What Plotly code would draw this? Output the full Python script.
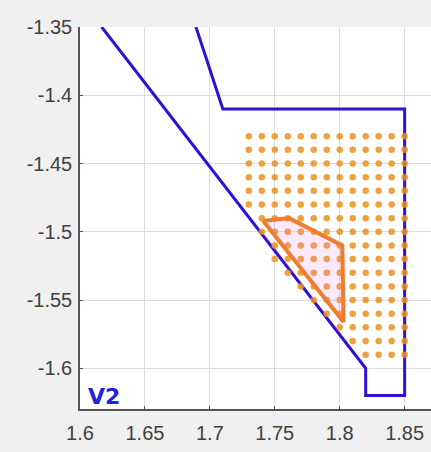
import plotly.graph_objects as go

# Boundary (blue) polyline
boundary_x = [1.6167, 1.82, 1.82, 1.85, 1.85, 1.71, 1.6893]
boundary_y = [-1.35, -1.60, -1.62, -1.62, -1.41, -1.41, -1.35]

# Grid of sampled points (orange dots)
grid_x = [1.73, 1.74, 1.75, 1.76, 1.77, 1.78, 1.79, 1.80, 1.81, 1.82, 1.83, 1.84, 1.85]
grid_y = [-1.43, -1.44, -1.45, -1.46, -1.47, -1.48, -1.49, -1.50, -1.51, -1.52,
          -1.53, -1.54, -1.55, -1.56, -1.57, -1.58, -1.59]
row_start = [1.73, 1.73, 1.73, 1.73, 1.73, 1.73, 1.74, 1.74, 1.75, 1.75,
             1.76, 1.77, 1.78, 1.79, 1.80, 1.81, 1.82]

# Highlighted polygon
poly_x = [1.741, 1.761, 1.802, 1.803, 1.741]
poly_y = [-1.492, -1.490, -1.510, -1.566, -1.492]

x_ticks = [1.6, 1.65, 1.7, 1.75, 1.8, 1.85]
x_labels = ["1.6", "1.65", "1.7", "1.75", "1.8", "1.85"]
y_ticks = [-1.6, -1.55, -1.5, -1.45, -1.4, -1.35]
y_labels = ["-1.6", "-1.55", "-1.5", "-1.45", "-1.4", "-1.35"]

dots_x, dots_y = [], []
for yv, xs in zip(grid_y, row_start):
    for xv in grid_x:
        if xv >= xs - 1e-9:
            dots_x.append(xv)
            dots_y.append(yv)

fig = go.Figure()
fig.add_trace(go.Scatter(x=boundary_x, y=boundary_y, mode="lines",
                         line=dict(color="rgb(50,15,215)", width=3),
                         hoverinfo="skip", showlegend=False))
fig.add_trace(go.Scatter(x=dots_x, y=dots_y, mode="markers",
                         marker=dict(color="rgba(236,145,30,0.85)", size=6.5, line=dict(width=0)),
                         hoverinfo="skip", showlegend=False))
fig.add_trace(go.Scatter(x=poly_x, y=poly_y, mode="lines", fill="toself",
                         fillcolor="rgba(245,120,225,0.16)",
                         line=dict(color="rgb(238,125,45)", width=4),
                         hoverinfo="skip", showlegend=False))

fig.add_annotation(x=1.6048, y=-1.6205, xref="x", yref="y", text="<b>V2</b>",
                   showarrow=False, xanchor="left", yanchor="middle",
                   font=dict(family="DejaVu Sans", size=22, color="#2222DD"))

axis_font = dict(family="Liberation Sans", size=20, color="#404040")
fig.update_xaxes(range=[1.6, 1.8703], tickvals=x_ticks, ticktext=x_labels,
                 showgrid=True, gridcolor="#dcdcdc", gridwidth=1, zeroline=False,
                 showline=True, linecolor="#555555", linewidth=1.5,
                 ticks="inside", ticklen=3, tickcolor="#555555",
                 ticklabelstandoff=5, tickfont=axis_font)
fig.update_yaxes(range=[-1.6298, -1.35], tickvals=y_ticks, ticktext=y_labels,
                 showgrid=True, gridcolor="#dcdcdc", gridwidth=1, zeroline=False,
                 showline=True, linecolor="#555555", linewidth=1.5,
                 ticks="inside", ticklen=3, tickcolor="#555555",
                 ticklabelstandoff=2, tickfont=axis_font)

fig.update_layout(width=431, height=452, autosize=False,
                  margin=dict(l=80, r=0, t=27, b=43, pad=0),
                  paper_bgcolor="#f0f0f0", plot_bgcolor="white")

fig.write_html("out.html")
